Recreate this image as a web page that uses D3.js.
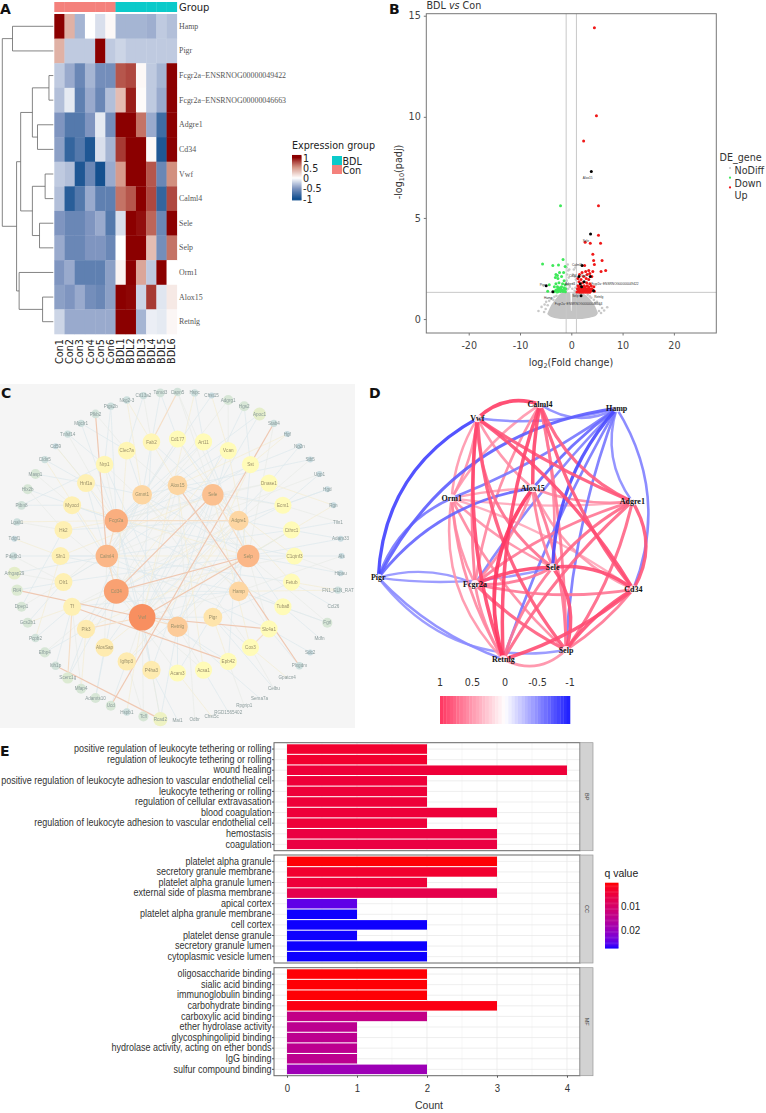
<!doctype html>
<html lang="en">
<head>
<meta charset="utf-8">
<title>BDL vs Con figure</title>
<script src="https://cdn.jsdelivr.net/npm/d3@7"></script>
<style>
  html, body { margin: 0; padding: 0; background: white; }
  svg { display: block; }
  text { font-family: "DejaVu Sans", sans-serif; }
  .serif { font-family: "Liberation Serif", serif; }
  .arial, .arial text { font-family: "Liberation Sans", sans-serif; }
  .soft { filter: blur(.35px); }
</style>
</head>
<body>
<svg id="fig" width="766" height="1113"></svg>
<script>
// ---------- panel A data ----------
var heatSamples = ["Con1","Con2","Con3","Con4","Con5","Con6","BDL1","BDL2","BDL3","BDL4","BDL5","BDL6"];
var heatGenes = ["Hamp","Pigr","Fcgr2a\u2212ENSRNOG00000049422","Fcgr2a\u2212ENSRNOG00000046663","Adgre1","Cd34","Vwf","Calml4","Sele","Selp","Orm1","Alox15","Retnlg"];
var heatValues = [
  [1,.35,-.35,0,-.15,.03,-.35,-.35,-.35,-.38,-.25,-.3],
  [.35,-.25,-.25,-.25,1,-.25,-.2,-.25,-.25,-.25,-.25,-.25],
  [-.25,-.4,-.6,-.35,-.55,-.55,.7,.75,.03,-.25,-.35,1],
  [-.3,-.1,-.65,-.4,-.6,-.3,.3,.9,.02,-.25,-.4,1],
  [-.5,-.7,-.7,-.5,-.1,-.55,1,1,.6,-.4,-.8,1],
  [-.45,-.85,-.7,-.95,-.15,-.35,.8,1,1,.03,-.95,1],
  [-.25,-.3,-.95,-.6,-1,-.4,.45,1,1,.7,-.6,.5],
  [-.3,-.9,-.7,-.4,-.65,-.65,.6,.7,1,.75,-.85,.75],
  [-.5,-.6,-.6,-.5,-.4,-.7,-.15,1,.95,.65,-.6,1],
  [-.4,-.6,-.6,-.5,-.5,-.6,0,1,1,.3,-.55,.6],
  [-.5,-.4,-.65,-.65,-.65,-.45,.05,1,.4,-.25,1,0],
  [-.45,-.5,-.4,-.55,-.6,-.45,1,.98,-.2,.8,-.12,.1],
  [-.2,-.4,-.4,-.4,-.4,-.4,1,1,-.35,-.08,-.1,.04]
];
// dendrogram merge heights, leaves are row indexes
var dendroTree = {h:1, kids:[
  {h:.8, kids:[0,1]},
  {h:.72, kids:[
    {h:.64, kids:[
      {h:.41, kids:[{h:.085, kids:[2,3]}, {h:.31, kids:[4,5]}]},
      {h:.41, kids:[{h:.16, kids:[6,7]}, {h:.27, kids:[8,9]}]}
    ]},
    {h:.67, kids:[10, {h:.21, kids:[11,12]}]}
  ]}
]};

// ---------- panel B data ----------
var volcanoNoDiffX = [-4.7,-4.2,-3.6,-3,-2.4,-1.8,-1.2,-.6,-.2,-.05,.05,.2,.6,1.2,1.8,2.4,3,3.6,4.2,4.8,5.2];
var volcanoNoDiffTop = [.25,.55,.8,1,1.2,1.3,1.32,1.32,1.28,.4,.4,1.28,1.32,1.32,1.3,1.25,1.15,1,.8,.55,.3];
var volcanoNoDiffBottom = [.25,.14,.08,.04,.02,0,0,0,0,0,0,0,0,0,0,.02,.04,.07,.1,.16,.3];
var volcanoGrey = [[-.7,2.7],[-.9,2.55],[-.6,2.4],[-.4,2.45],[.5,2.45],[.8,2.55],[-.8,2.2],[-.5,2.05],[.3,2.2],[.7,2.1],
  [.9,1.95],[-.9,1.9],[-.7,1.7],[-.3,1.6],[.4,1.75],[.8,1.55],[-.6,1.5],[.2,1.5],[-.9,1.45],[.65,1.4],
  [-6.4,.4],[-5.8,.6],[-5.3,.35],[-5.2,.72],[-5,.5],[-4.9,.85],[-4.6,.68],[-4.3,.9],[-3.9,1],[-3.5,.95],[-3.3,1.1],[-2.9,1.15],
  [5.4,.4],[5.6,.72],[5.8,.3],[6,.55],[6.4,.42],[7,.58],[5,.85],[4.7,.8],[4.4,.95],[3.9,1.05],[3.6,1.12],[3.2,1.2]];
var volcanoDown = [[-2.1,5.6],[-1.6,2.95],[-5.6,2.72],[-3.6,2.65],[-2.5,2.67],[-1.2,2.6],[-1.5,2.3],[-2.3,2.3],[-3,2.2],[-2.7,2.15],
  [-3.1,2.05],[-2.6,2],[-1.9,2.1],[-2.4,1.8],[-3,1.75],[-1.4,1.9],[-1.7,1.75],[-1.2,1.7],[-4.3,1.7],[-1.9,1.6],[-1.4,1.55],
  [-3.3,1.6],[-2.7,1.6],[-1.1,1.5],[-4.6,1.38],[-3.1,1.4],[-2.9,1.45],[-2.7,1.42],[-2.6,1.35],[-2.4,1.48],[-2.3,1.4],[-2.1,1.36],
  [-2,1.5],[-1.8,1.42],[-1.6,1.36],[-1.4,1.42],[-1.15,1.35],[-2.8,1.34],[-2.5,1.52],[-2.2,1.55],[-3.4,1.35]];
var volcanoUp = [[4.5,14.4],[4.9,10.05],[2.4,8.8],[5.3,5.6],[5.3,4.15],[5.7,3.75],[2.7,3.8],[3.7,3.75],[4.2,3.2],[6,2.9],[4.35,2.9],
  [4.5,2.7],[2.6,2.65],[6.7,2.4],[5.8,2.35],[3.4,2.4],[2.8,2.35],[4.2,2.35],[2.1,2.3],[1.6,2.2],[3.1,2.2],[3.6,2.25],[4,2.1],[2.4,2.1],
  [1.3,2],[1.9,1.95],[2.9,2],[3.4,1.95],[1.5,1.85],[2.2,1.8],[3,1.8],[3.6,1.75],[1.3,1.65],[1.8,1.65],[2.5,1.65],[3.1,1.65],[3.9,1.65],
  [4.4,1.6],[1.2,1.5],[1.6,1.5],[2,1.5],[2.4,1.5],[2.8,1.5],[3.2,1.5],[3.6,1.5],[4,1.5],[1.4,1.4],[1.8,1.4],[2.2,1.4],[2.6,1.4],[3,1.4],
  [3.4,1.4],[3.8,1.4],[4.2,1.42],[4.5,1.38],[1.1,1.34],[1.6,1.33],[2,1.33],[2.4,1.33],[2.8,1.33],[3.2,1.33],[3.6,1.33],[1.5,1.58],[2.2,1.58],[2.7,1.58],[3.4,1.58]];
var volcanoHitNames = ["Alox15","Sele","Calml4","Cd34","Vwf","Fcgr2a\u2212ENSRNOG00000049422","Adgre1","Selp","Pigr","Hamp","Retnlg","Fcgr2a\u2212ENSRNOG00000046663"];
var volcanoHitX = [3.9,3.75,2.1,1.5,3.7,2.5,1.75,2.0,-4.9,-3.6,4.35,1.9];
var volcanoHitY = [7.3,4.2,2.65,2.1,2.1,1.85,1.75,1.6,1.65,1.35,1.4,1.15];
var volcanoHitLabelDX = [-.7,-.9,-1,-1.2,-1.3,6,-2,-1.2,-.7,-.9,1,-.5];
var volcanoHitLabelDY = [-.18,-.18,.18,.18,.18,.02,.15,-.3,.18,-.18,-.18,-.25];

// ---------- panel C data ----------
var ringInner = ["Alox15","Sele","Adgre1","Selp","Hamp","Pigr","Retnlg","Vwf","Cd34","Calml4","Fcgr2a","Gmnt1"];
var ringInnerDegree = [15,19,15,21,15,13,17,30,26,21,23,15];
var ringMiddle = ["Cd177","Art11","Vcan","Sst","Dnase1","Ecm1","Cthrc1","C1qtnf3","Fetub","Tuba8","Slc4a1","Cox3","Epb42","Acsa1","Acam3","P4ha3","Igfbp3","AlosSap","Plk3","Tf","Olr1","Sfn1","Hk2","Myocd","Hnf1a","Nrp1","Clec7a","Fab2"];
var ringMiddleDegree = [9,9,9,9,9,9,9,9,9,9,9,9,9,9,9,12,12,12,12,11,11,11,11,11,11,10,10,10];
var ringOuter = ["Capn5","Hspc","Chst15","Adgrg1","Hgs2","Apoc1","Stab4","Hgf","Ng2n","Stb5","Ugp1","Hgd","Rgn","Tlln1","Adam33","Als","Htpau","FN1_ELN_RAT","Ccl26","Fgrl","Mdfn","Sdc2","Plxgdm","Gpatcn4","Celbu","Sema7a","Rpgrip1","RGD1565402","Chst5c","Odbr","Mai1","Rcad2","Tcfl","Hspb1","Ucd","Adamts10","Mfap4","Scerc1g","Itih1p","Efbp4","Pcpb2","Gcs2b1","Dpep1","Rtl4","Arhgap29","Pde6b1","Tdgf1","Lgalt1","Ptbn8","Hlx2b","Masp1","Cldn5","Cd59","Tnfsf14","Mgclr1","Pfkb2","Ptgs2b","Nkg2-3","Ctl13a2","Tomd3"];
var ringOuterDegree = [3,2,1,4,4,6,2,1,1,1,1,1,1,0,1,1,1,2,0,4,0,1,2,0,0,0,0,0,0,0,0,7,4,2,4,4,4,5,3,4,3,4,4,5,6,2,1,2,3,4,4,2,1,2,2,3,2,2,2,3];
var cEdgesLight = ["Vwf Cd34","Vwf Calml4","Vwf Fcgr2a","Vwf Alox15","Vwf Sele","Vwf Adgre1","Vwf Hamp","Vwf Pigr","Cd34 Calml4","Cd34 Alox15","Cd34 Adgre1","Cd34 Hamp","Cd34 Retnlg","Calml4 Gmnt1","Calml4 Alox15","Calml4 Selp","Fcgr2a Gmnt1","Fcgr2a Sele","Fcgr2a Retnlg","Gmnt1 Selp","Gmnt1 Hamp","Alox15 Selp","Alox15 Adgre1","Adgre1 Retnlg","Selp Retnlg",
  "Cd177 Sele","Cd177 Gmnt1","Cd177 Calml4","Art11 Fcgr2a","Art11 Selp","Vcan Cd34","Vcan Retnlg","Vcan Fcgr2a","Sst Vwf","Sst Calml4","Sst Retnlg","Dnase1 Fcgr2a","Dnase1 Vwf","Ecm1 Cd34","Ecm1 Sele","Cthrc1 Vwf","Cthrc1 Calml4","C1qtnf3 Cd34","C1qtnf3 Fcgr2a","Fetub Calml4","Fetub Sele","Tuba8 Fcgr2a","Tuba8 Selp","Slc4a1 Alox15","Slc4a1 Calml4","Cox3 Sele","Cox3 Gmnt1","Epb42 Adgre1","Epb42 Cd34","Acsa1 Vwf","Acsa1 Alox15","Acam3 Selp","Acam3 Cd34","P4ha3 Fcgr2a","P4ha3 Sele","Igfbp3 Adgre1","Igfbp3 Selp","AlosSap Sele","AlosSap Calml4","Plk3 Gmnt1","Plk3 Selp","Tf Adgre1","Tf Hamp","Olr1 Selp","Olr1 Alox15","Sfn1 Sele","Sfn1 Hamp","Hk2 Retnlg","Hk2 Adgre1","Myocd Vwf","Myocd Selp","Hnf1a Cd34","Hnf1a Retnlg","Nrp1 Hamp","Nrp1 Retnlg","Clec7a Cd34","Clec7a Selp","Fab2 Vwf","Fab2 Adgre1",
  "Capn5 Selp","Hspc Vwf","Chst15 Gmnt1","Adgrg1 Calml4","Hgs2 Vwf","Apoc1 Fcgr2a","Hgf Sst","Ng2n Fcgr2a","Stb5 Gmnt1","Ugp1 Calml4","Hgd Adgre1","Rgn Dnase1","Tlln1 Ecm1","Adam33 Selp","Als Selp","Htpau C1qtnf3","FN1_ELN_RAT Fetub","Ccl26 Fetub","Fgrl Hamp","Mdfn Tuba8","Sdc2 Slc4a1","Gpatcn4 Cox3","Celbu Pigr","Sema7a Retnlg","Rpgrip1 Epb42","RGD1565402 Acsa1","Chst5c Acam3","Odbr Alox15","Mai1 P4ha3","Rcad2 Retnlg","Tcfl Igfbp3","Hspb1 Vwf","Adamts10 AlosSap","Mfap4 Tf","Scerc1g Cd34","Efbp4 Plk3","Pcpb2 Sfn1","Gcs2b1 Olr1","Dpep1 Hk2","Arhgap29 Olr1","Pde6b1 Calml4","Tdgf1 Sfn1","Lgalt1 Hk2","Ptbn8 Nrp1","Hlx2b Fcgr2a","Masp1 Myocd","Cldn5 Calml4","Cd59 Hnf1a","Tnfsf14 Fcgr2a","Mgclr1 Clec7a","Ptgs2b Nrp1","Nkg2-3 Fab2","Ctl13a2 Clec7a","Tomd3 Gmnt1",
  "Capn5 Sele","Hspc Art11","Chst15 Vcan","Adgrg1 Vcan","Hgs2 Sst","Apoc1 Sele","Stab4 Selp","Hgf Alox15","Ng2n Dnase1","Stb5 Adgre1","Ugp1 Ecm1","Hgd Ecm1","Rgn Selp","Tlln1 Cthrc1","Adam33 Adgre1","Als Hamp","Htpau Selp","FN1_ELN_RAT Hamp","Fgrl Selp","Fgrl Tuba8","Plxgdm Slc4a1","Celbu Cox3","Rcad2 P4ha3","Rcad2 Vwf","Tcfl Vwf","Ucd Igfbp3","Adamts10 Cd34","Mfap4 Plk3","Scerc1g Plk3","Itih1p Tf","Efbp4 Cd34","Pcpb2 Tf","Gcs2b1 Cd34","Dpep1 Calml4","Rtl4 Olr1","Arhgap29 Calml4","Pde6b1 Olr1","Lgalt1 Fcgr2a","Ptbn8 Myocd","Hlx2b Hk2","Masp1 Hnf1a","Cldn5 Hnf1a","Cd59 Fcgr2a","Tnfsf14 Nrp1","Mgclr1 Fcgr2a","Pfkb2 Clec7a","Ptgs2b Fcgr2a","Nkg2-3 Gmnt1","Ctl13a2 Fab2","Tomd3 Cd177",
  "Cd177 Adgre1","Art11 Calml4","Vcan Selp","Sst Hamp","Dnase1 Sele","Ecm1 Alox15","Cthrc1 Selp","C1qtnf3 Sele","Fetub Pigr","Tuba8 Hamp","Slc4a1 Selp","Cox3 Pigr","Epb42 Pigr","Acsa1 Retnlg","Acam3 Retnlg","P4ha3 Vwf","Igfbp3 Vwf","AlosSap Vwf","Plk3 Cd34","Tf Cd34","Olr1 Calml4","Sfn1 Calml4","Hk2 Fcgr2a","Myocd Fcgr2a","Hnf1a Gmnt1","Nrp1 Fcgr2a","Clec7a Gmnt1","Fab2 Alox15"];
var cEdgesStrong = ["Pfkb2 Calml4","Stab4 Ucd","Alox15 Plxgdm","Sele Cd34","Selp Cd34","Selp Vwf","Rtl4 Vwf","Vwf Slc4a1","Tf Epb42","Itih1p Rcad2","Fcgr2a Calml4","Calml4 Cd34","Fcgr2a Adgre1","Sele Selp","Capn5 Fab2","Slc4a1 Cox3","Plk3 Vwf","Scerc1g Tf","Vwf Retnlg"];

// ---------- panel D data ----------
var corrNodes = ["Vwf","Calml4","Hamp","Alox15","Orm1","Adgre1","Pigr","Fcgr2a","Sele","Cd34","Selp","Retnlg"];
var corrLayoutX = [352,540,770,518,275,817,55,345,578,820,618,430];
var corrLayoutY = [130,88,100,340,370,380,608,627,577,643,825,853];
var corrEdges = [
  ["Vwf","Calml4",.95,-.3],["Vwf","Orm1",.45,-.1],["Vwf","Orm1",.4,.12],["Vwf","Alox15",.45,.1],["Vwf","Fcgr2a",.6,.05],["Vwf","Sele",.65,.25],["Vwf","Retnlg",.9,.12],["Vwf","Selp",.8,.16],["Vwf","Adgre1",.8,.05],["Vwf","Cd34",.85,-.1],
  ["Calml4","Orm1",.4,.12],["Calml4","Alox15",.9,.05],["Calml4","Fcgr2a",.5,.1],["Calml4","Sele",.5,-.08],["Calml4","Retnlg",.9,.1],["Calml4","Selp",.6,-.05],["Calml4","Adgre1",.75,.2],["Calml4","Cd34",.8,.1],
  ["Alox15","Orm1",.35,.05],["Alox15","Fcgr2a",.5,-.1],["Alox15","Sele",.55,.08],["Alox15","Adgre1",.5,.12],["Alox15","Cd34",.4,.2],["Alox15","Selp",.6,-.1],["Alox15","Retnlg",1,.25],
  ["Orm1","Fcgr2a",.45,.1],["Orm1","Retnlg",.5,.12],["Orm1","Retnlg",.42,.25],["Orm1","Selp",.5,.1],["Orm1","Sele",.45,.08],["Orm1","Cd34",.3,-.08],["Orm1","Adgre1",.3,.06],
  ["Fcgr2a","Sele",.9,-.1],["Fcgr2a","Sele",.6,.15],["Fcgr2a","Cd34",.6,.1],["Fcgr2a","Selp",.75,.08],["Fcgr2a","Retnlg",.5,.1],["Fcgr2a","Adgre1",.6,-.1],
  ["Sele","Adgre1",.7,-.1],["Sele","Cd34",.85,-.2],["Sele","Selp",.85,-.25],["Sele","Retnlg",.6,.1],
  ["Adgre1","Cd34",.8,-.3],["Adgre1","Selp",.7,-.1],["Adgre1","Retnlg",.7,.08],
  ["Cd34","Selp",.85,.1],["Cd34","Selp",.6,-.08],["Cd34","Retnlg",.85,-.1],["Selp","Retnlg",.45,-.35],
  ["Pigr","Vwf",-.8,-.28],["Pigr","Orm1",-.5,-.22],["Pigr","Alox15",-.6,-.2],["Pigr","Fcgr2a",-.35,-.18],["Pigr","Sele",-.35,.1],["Pigr","Selp",-.35,.3],["Pigr","Retnlg",-.4,.12],["Pigr","Hamp",-.65,-.26],
  ["Hamp","Vwf",-.4,-.1],["Hamp","Calml4",-.4,-.3],["Hamp","Orm1",-.5,-.06],["Hamp","Alox15",-.6,.06],["Hamp","Fcgr2a",-.45,.05],["Hamp","Sele",-.75,.18],["Hamp","Selp",-.5,.08],["Hamp","Retnlg",-.5,.05],["Hamp","Adgre1",-.4,.25],["Hamp","Cd34",-.45,-.25]
];
var corrLegendTicks = [1,.5,0,-.5,-1];

// ---------- panel E data ----------
var goBP = ["positive regulation of leukocyte tethering or rolling","regulation of leukocyte tethering or rolling","wound healing","positive regulation of leukocyte adhesion to vascular endothelial cell","leukocyte tethering or rolling","regulation of cellular extravasation","blood coagulation","regulation of leukocyte adhesion to vascular endothelial cell","hemostasis","coagulation"];
var goBPCount = [2,2,4,2,2,2,3,2,3,3];
var goBPq = [.0035,.0035,.0045,.0045,.0045,.0045,.0045,.0045,.0055,.0055];
var goCC = ["platelet alpha granule","secretory granule membrane","platelet alpha granule lumen","external side of plasma membrane","apical cortex","platelet alpha granule membrane","cell cortex","platelet dense granule","secretory granule lumen","cytoplasmic vesicle lumen"];
var goCCCount = [3,3,2,3,1,1,2,1,2,2];
var goCCq = [.0005,.0035,.0045,.0065,.0245,.027,.027,.027,.027,.027];
var goMF = ["oligosaccharide binding","sialic acid binding","immunoglobulin binding","carbohydrate binding","carboxylic acid binding","ether hydrolase activity","glycosphingolipid binding","hydrolase activity, acting on ether bonds","IgG binding","sulfur compound binding"];
var goMFCount = [2,2,2,3,2,1,1,1,1,2];
var goMFq = [.0005,.0005,.0005,.0012,.0135,.0145,.0145,.0145,.0145,.019];

var svg = d3.select("#fig");

function panelLetter(s, x, y) {
  svg.append("text").attr("x", x).attr("y", y).attr("font-size", 14).attr("font-weight", "bold").attr("fill", "#111").text(s);
}

// squeeze text sideways, panel E of the source is horizontally compressed
function squeeze(sel, k) {
  sel.each(function() {
    var w = this.getComputedTextLength();
    d3.select(this).attr("textLength", w * k).attr("lengthAdjust", "spacingAndGlyphs");
  });
}

// ---------- A: heatmap ----------
function drawHeatmap() {
  var g = svg.append("g");
  var x = d3.scaleBand().domain(heatSamples).range([54.3, 176.8]);
  var y = d3.scaleBand().domain(heatGenes).range([14, 334]);
  var color = d3.scaleLinear().domain([-1,-.5,0,.5,1]).range(["#14508f","#7f95c0","#ffffff","#d2907f","#8b0000"]);

  g.selectAll(".group").data(heatSamples).join("rect")
    .attr("x", function(d) { return x(d); }).attr("y", 2)
    .attr("width", x.bandwidth() + .3).attr("height", 10)
    .attr("fill", function(d) { return d.indexOf("Con") == 0 ? "#f4817c" : "#0bcaca"; });
  g.append("text").attr("x", 179).attr("y", 11).attr("font-size", 10).attr("fill", "#222").text("Group");

  heatValues.forEach(function(row, i) {
    g.selectAll(".r" + i).data(row).join("rect")
      .attr("x", function(d, j) { return x(heatSamples[j]); })
      .attr("y", y(heatGenes[i]))
      .attr("width", x.bandwidth() + .3).attr("height", y.bandwidth() + .3)
      .attr("fill", function(d) { return color(d); });
  });

  g.selectAll(".gene").data(heatGenes).join("text").attr("class", "serif")
    .attr("x", 179).attr("y", function(d) { return y(d) + y.bandwidth() / 2 + 2.5; })
    .attr("font-size", 7.9).attr("fill", "#555").text(function(d) { return d; });

  g.selectAll(".sample").data(heatSamples).join("text")
    .attr("transform", function(d) { return "translate(" + (x(d) + x.bandwidth() / 2 + 3.5) + ",364) rotate(-90)"; })
    .attr("font-size", 9.7).attr("fill", "#222").text(function(d) { return d; });

  // dendrogram
  var hx = d3.scaleLinear().domain([0, 1]).range([53.3, 2.3]);
  function walk(node) {
    if (typeof node == "number") return { y: y(heatGenes[node]) + y.bandwidth() / 2, h: 0 };
    var a = walk(node.kids[0]), b = walk(node.kids[1]);
    var p = d3.path();
    p.moveTo(hx(a.h), a.y); p.lineTo(hx(node.h), a.y);
    p.lineTo(hx(node.h), b.y); p.lineTo(hx(b.h), b.y);
    g.append("path").attr("d", p.toString()).attr("fill", "none").attr("stroke", "#666").attr("stroke-width", .8);
    return { y: (a.y + b.y) / 2, h: node.h };
  }
  walk(dendroTree);

  // legend
  g.append("text").attr("x", 292).attr("y", 149).attr("font-size", 9.6).attr("fill", "#222").text("Expression group");
  var ly = d3.scaleLinear().domain([1, -1]).range([158, 199]);
  var steps = d3.range(1.1, -1.1, -.05);
  g.selectAll(".lg").data(steps).join("rect")
    .attr("x", 292).attr("y", function(d) { return ly(d) - 1; })
    .attr("width", 9.5).attr("height", 1.4)
    .attr("fill", function(d) { return color(Math.max(-1, Math.min(1, d))); });
  g.selectAll(".lgt").data([1,.5,0,-.5,-1]).join("text")
    .attr("x", 303).attr("y", function(d) { return ly(d) + 3.5; })
    .attr("font-size", 9.6).attr("fill", "#222").text(function(d) { return d; });
  g.append("rect").attr("x", 332).attr("y", 156).attr("width", 10).attr("height", 9).attr("fill", "#0bcaca");
  g.append("rect").attr("x", 332).attr("y", 165).attr("width", 10).attr("height", 9).attr("fill", "#f4817c");
  g.append("text").attr("x", 342.5).attr("y", 165).attr("font-size", 9.6).attr("fill", "#222").text("BDL");
  g.append("text").attr("x", 342.5).attr("y", 174).attr("font-size", 9.6).attr("fill", "#222").text("Con");
}

// ---------- B: volcano ----------
function drawVolcano() {
  var g = svg.append("g");
  var x = d3.scaleLinear().domain([-28.27, 28.27]).range([426.3, 716.3]);
  var y = d3.scaleLinear().domain([-.69, 15.1]).range([333, 13.7]);

  var area = d3.area().x(function(d, i) { return x(volcanoNoDiffX[i]); })
    .y0(function(d, i) { return y(volcanoNoDiffBottom[i]); })
    .y1(function(d, i) { return y(volcanoNoDiffTop[i]); })
    .curve(d3.curveMonotoneX);
  g.append("path").attr("d", area(volcanoNoDiffX)).attr("fill", "#c4c4c4");

  function dots(data, col, r) {
    g.append("g").selectAll("circle").data(data).join("circle")
      .attr("cx", function(d) { return x(d[0]); }).attr("cy", function(d) { return y(d[1]); })
      .attr("r", r).attr("fill", col);
  }
  dots(volcanoGrey, "#c9c9c9", 1.3);
  g.append("line").attr("x1", x(-1)).attr("x2", x(-1)).attr("y1", 13.7).attr("y2", 333).attr("stroke", "#c8c8c8");
  g.append("line").attr("x1", x(1)).attr("x2", x(1)).attr("y1", 13.7).attr("y2", 333).attr("stroke", "#c8c8c8");
  g.append("line").attr("x1", 426.3).attr("x2", 716.3).attr("y1", y(1.32)).attr("y2", y(1.32)).attr("stroke", "#c8c8c8");
  dots(volcanoDown, "#3fe85a", 1.5);
  dots(volcanoUp, "#f01818", 1.5);
  dots(volcanoHitX.map(function(d, i) { return [d, volcanoHitY[i]]; }), "#000", 1.5);

  g.selectAll(".hit").data(volcanoHitNames).join("text")
    .attr("x", function(d, i) { return x(volcanoHitX[i] + volcanoHitLabelDX[i]); })
    .attr("y", function(d, i) { return y(volcanoHitY[i] + volcanoHitLabelDY[i] - .2) ; })
    .attr("font-size", 3.2).attr("fill", "#333").attr("text-anchor", "middle")
    .attr("class", "arial").text(function(d) { return d; });

  g.append("rect").attr("x", 426.3).attr("y", 13.7).attr("width", 290).attr("height", 319.3)
    .attr("fill", "none").attr("stroke", "#777");

  var xa = g.append("g").attr("transform", "translate(0,333)")
    .call(d3.axisBottom(x).tickValues([-20,-10,0,10,20]).tickSize(2.5).tickFormat(d3.format("d")));
  var ya = g.append("g").attr("transform", "translate(426.3,0)")
    .call(d3.axisLeft(y).tickValues([0,5,10,15]).tickSize(2.5));
  [xa, ya].forEach(function(a) {
    a.select(".domain").remove();
    a.selectAll("line").attr("stroke", "#777");
    a.selectAll("text").attr("font-size", 9.6).attr("fill", "#444");
  });
  xa.selectAll("text").attr("dy", "1.1em").text(function(d) { return d; });

  var t = g.append("text").attr("x", 571).attr("y", 366).attr("text-anchor", "middle").attr("font-size", 9.6).attr("fill", "#333");
  t.append("tspan").text("log");
  t.append("tspan").attr("font-size", 6.5).attr("dy", 2).text("2");
  t.append("tspan").attr("dy", -2).text("(Fold change)");
  var yt = g.append("text").attr("transform", "translate(402,172) rotate(-90)").attr("text-anchor", "middle").attr("font-size", 9.6).attr("fill", "#333");
  yt.append("tspan").text("-log");
  yt.append("tspan").attr("font-size", 6.5).attr("dy", 2).text("10");
  yt.append("tspan").attr("dy", -2).text("(padj)");

  var tt = g.append("text").attr("x", 426.5).attr("y", 9).attr("font-size", 9.6).attr("fill", "#333");
  tt.append("tspan").text("BDL ");
  tt.append("tspan").attr("font-style", "italic").text("vs");
  tt.append("tspan").text(" Con");

  g.append("text").attr("x", 719.5).attr("y", 161).attr("font-size", 9.6).attr("fill", "#333").text("DE_gene");
  g.selectAll(".lt").data(["NoDiff","Down","Up"]).join("text")
    .attr("x", 734.5).attr("y", function(d, i) { return 174 + i * 12.7; })
    .attr("font-size", 9.6).attr("fill", "#333").text(function(d) { return d; });
  g.selectAll(".ld").data(["#c9c9c9","#3fe85a","#f01818"]).join("circle")
    .attr("cx", 730).attr("cy", function(d, i) { return 168 + i * 9.7; })
    .attr("r", 1.1).attr("fill", function(d) { return d; });
}

// ---------- C: network ----------
function drawNetwork() {
  svg.append("rect").attr("x", 0).attr("y", 384).attr("width", 355).attr("height", 344).attr("fill", "#f5f5f5");
  var g = svg.append("g").attr("class", "soft");
  var cx = 177.5, cy = 556;
  var radius = d3.scaleOrdinal().domain(["inner","middle","outer"]).range([70.7, 117, 164]);
  var nodeR = d3.scaleLinear().domain([0,1,5,9,14,30]).range([0,3,5.7,8.6,9.6,13.3]);
  var nodeC = d3.scaleLinear().domain([0,1,3,5,7,9,12,15,20,30])
    .range(["#e8f0f2","#c8dbe0","#d2e2da","#dcead2","#eef2c2","#fffbb8","#feebb0","#fdd6a2","#fbbb8c","#f88f60"]);

  var nodes = [], byName = {};
  function addRing(names, degree, ring) {
    var a = d3.scaleLinear().domain([0, names.length]).range([0, 2 * Math.PI]);
    names.forEach(function(n, i) {
      var p = d3.pointRadial(a(i), radius(ring));
      var nd = { name: n, deg: degree[i], x: cx + p[0], y: cy + p[1], ring: ring };
      nodes.push(nd); byName[n] = nd;
    });
  }
  addRing(ringOuter, ringOuterDegree, "outer");
  addRing(ringMiddle, ringMiddleDegree, "middle");
  addRing(ringInner, ringInnerDegree, "inner");

  function edgeLines(list, col, w) {
    g.append("g").selectAll("line").data(list).join("line")
      .attr("x1", function(d) { return byName[d.split(" ")[0]].x; })
      .attr("y1", function(d) { return byName[d.split(" ")[0]].y; })
      .attr("x2", function(d) { return byName[d.split(" ")[1]].x; })
      .attr("y2", function(d) { return byName[d.split(" ")[1]].y; })
      .attr("stroke", function(d, i) { return typeof col == "function" ? col(d, i) : col; })
      .attr("stroke-width", w);
  }
  edgeLines(cEdgesLight, function(d, i) { return i % 5 == 0 ? "#f4edd2" : (i % 3 == 0 ? "#e8ebe6" : "#dde8ec"); }, .7);
  edgeLines(cEdgesStrong, function(d, i) { return i < 10 ? "#efc8b2" : "#f5dfc8"; }, 1.2);

  g.append("g").selectAll("circle").data(nodes).join("circle")
    .attr("cx", function(d) { return d.x; }).attr("cy", function(d) { return d.y; })
    .attr("r", function(d) { return nodeR(d.deg); })
    .attr("fill", function(d) { return nodeC(d.deg); });
  g.append("g").selectAll("text").data(nodes).join("text").attr("class", "arial")
    .attr("x", function(d) { return d.x; }).attr("y", function(d) { return d.y + 1.6; })
    .attr("text-anchor", "middle").attr("font-size", 4.6)
    .attr("fill", function(d) { return d.ring == "outer" ? "#8c9c9c" : "#9a8f6a"; })
    .text(function(d) { return d.name; });
}

// ---------- D: correlation network ----------
function drawCorr() {
  var g = svg.append("g");
  var sx = d3.scaleLinear().domain([0, 900]).range([360, 660]);
  var sy = d3.scaleLinear().domain([0, 1080]).range([375, 735]);
  var idx = {};
  corrNodes.forEach(function(n, i) { idx[n] = { x: sx(corrLayoutX[i]), y: sy(corrLayoutY[i]) }; });

  var color = d3.scaleLinear().domain([-1, 0, 1]).range(["#1c1cff", "#ffffff", "#ff3560"]);
  var edges = corrEdges.slice().sort(function(a, b) { return Math.abs(a[2]) - Math.abs(b[2]); });
  g.append("g").selectAll("path").data(edges).join("path")
    .attr("d", function(e) {
      var s = idx[e[0]], t = idx[e[1]];
      var dx = t.x - s.x, dy = t.y - s.y;
      var p = d3.path();
      p.moveTo(s.x, s.y);
      p.quadraticCurveTo((s.x + t.x) / 2 - dy * e[3], (s.y + t.y) / 2 + dx * e[3], t.x, t.y);
      return p.toString();
    })
    .attr("fill", "none")
    .attr("stroke", function(e) { return color((e[2] > 0 ? 1 : -1) * (.2 + .8 * Math.abs(e[2]))); })
    .attr("stroke-opacity", .9)
    .attr("stroke-width", function(e) { return 1.7 + Math.abs(e[2]) * 2; });

  g.append("g").selectAll("circle").data(corrNodes).join("circle")
    .attr("cx", function(n) { return idx[n].x; }).attr("cy", function(n) { return idx[n].y; })
    .attr("r", 4).attr("fill", "#fff").attr("fill-opacity", .85);
  g.append("g").selectAll("text").data(corrNodes).join("text").attr("class", "serif")
    .attr("x", function(n) { return idx[n].x; }).attr("y", function(n) { return idx[n].y + 2.5; })
    .attr("text-anchor", "middle").attr("font-size", 8).attr("font-weight", "bold").attr("fill", "#111")
    .text(function(n) { return n; });

  // legend
  var lx = d3.scaleLinear().domain([1, -1]).range([440, 570]);
  var steps = d3.range(1, -1, -.05);
  g.append("g").selectAll("rect").data(steps).join("rect")
    .attr("x", function(d) { return lx(d); }).attr("y", 696)
    .attr("width", lx(0) - lx(.05) + .3).attr("height", 28)
    .attr("fill", function(d) { return color(d - .025); });
  g.selectAll(".lgt").data(corrLegendTicks).join("text")
    .attr("x", function(d) { return lx(d); }).attr("y", 686)
    .attr("text-anchor", "middle").attr("font-size", 9.6).attr("fill", "#333")
    .text(function(d) { return d; });
}

// ---------- E: GO bars ----------
function drawBars() {
  var g = svg.append("g").attr("class", "arial");
  var x = d3.scaleLinear().domain([-.186, 4.186]).range([274, 580]);
  var qColor = d3.scaleLinear().domain([.0003, .0271]).range(["#ff0000", "#0000ff"]).interpolate(d3.interpolateLab);
  var panels = [
    { names: goBP, count: goBPCount, q: goBPq, top: 742.7, strip: "BP" },
    { names: goCC, count: goCCCount, q: goCCq, top: 855, strip: "CC" },
    { names: goMF, count: goMFCount, q: goMFq, top: 967.7, strip: "MF" }
  ];
  var height = 108;

  panels.forEach(function(p) {
    var pg = g.append("g");
    var y = d3.scaleBand().domain(p.names).range([p.top, p.top + height]).paddingInner(.1).paddingOuter(.15);
    pg.append("g").selectAll("line").data([.5,1.5,2.5,3.5]).join("line")
      .attr("x1", function(d) { return x(d); }).attr("x2", function(d) { return x(d); })
      .attr("y1", p.top).attr("y2", p.top + height).attr("stroke", "#f3f3f3").attr("stroke-width", .6);
    pg.append("g").selectAll("line").data([0,1,2,3,4]).join("line")
      .attr("x1", function(d) { return x(d); }).attr("x2", function(d) { return x(d); })
      .attr("y1", p.top).attr("y2", p.top + height).attr("stroke", "#e6e6e6").attr("stroke-width", .7);
    pg.append("g").selectAll("line").data(p.names).join("line")
      .attr("x1", 274).attr("x2", 580)
      .attr("y1", function(d) { return y(d) + y.bandwidth() / 2; })
      .attr("y2", function(d) { return y(d) + y.bandwidth() / 2; })
      .attr("stroke", "#e6e6e6").attr("stroke-width", .7);
    pg.append("g").selectAll("rect").data(p.names).join("rect")
      .attr("x", x(0)).attr("y", function(d) { return y(d); })
      .attr("width", function(d, i) { return x(p.count[i]) - x(0); })
      .attr("height", y.bandwidth())
      .attr("fill", function(d, i) { return qColor(p.q[i]); });
    pg.append("rect").attr("x", 274).attr("y", p.top).attr("width", 306).attr("height", height)
      .attr("fill", "none").attr("stroke", "#666").attr("stroke-width", 1);
    pg.append("rect").attr("x", 580).attr("y", p.top).attr("width", 13).attr("height", height)
      .attr("fill", "#d2d2d2").attr("stroke", "#999").attr("stroke-width", .7);
    pg.append("text")
      .attr("transform", "translate(585," + (p.top + height / 2) + ") rotate(90)")
      .attr("text-anchor", "middle").attr("font-size", 5.5).attr("fill", "#444")
      .text(p.strip);
    var ya = pg.append("g").attr("transform", "translate(274,0)").call(d3.axisLeft(y).tickSize(2).tickSizeOuter(0));
    ya.select(".domain").remove();
    ya.selectAll("line").attr("stroke", "#555");
    ya.selectAll("text").attr("font-size", 10).attr("fill", "#333").attr("x", -2.5).call(squeeze, .9);
  });

  var xa = g.append("g").attr("transform", "translate(0,1075.7)").call(d3.axisBottom(x).tickValues([0,1,2,3,4]).tickSize(2).tickFormat(d3.format("d")));
  xa.select(".domain").remove();
  xa.selectAll("line").attr("stroke", "#555");
  xa.selectAll("text").attr("font-size", 11).attr("fill", "#333").attr("dy", "1.05em").call(squeeze, .87);
  g.append("text").attr("x", 429).attr("y", 1109).attr("text-anchor", "middle").attr("font-size", 11).attr("fill", "#333").text("Count").call(squeeze, .95);

  // q value colour bar
  g.append("text").attr("x", 604.5).attr("y", 877).attr("font-size", 11).attr("fill", "#222").text("q value").call(squeeze, .95);
  var ly = d3.scaleLinear().domain([.0003, .0271]).range([882.7, 947.7]);
  g.append("g").selectAll("rect").data(d3.range(.0003, .0271, .0005)).join("rect")
    .attr("x", 605).attr("y", function(d) { return ly(d); })
    .attr("width", 13.5).attr("height", ly(.0008) - ly(.0003) + .4)
    .attr("fill", function(d) { return qColor(d); });
  g.selectAll(".qt").data([.01, .02]).join("text")
    .attr("x", 621).attr("y", function(d) { return ly(d) + 4; })
    .attr("font-size", 11).attr("fill", "#222").text(function(d) { return d; }).call(squeeze, .9);
}

drawHeatmap();
drawVolcano();
drawNetwork();
drawCorr();
drawBars();
panelLetter("A", 0, 14);
panelLetter("B", 389, 14);
panelLetter("C", 1, 398);
panelLetter("D", 369, 398);
panelLetter("E", 0, 756);
</script>
</body>
</html>
